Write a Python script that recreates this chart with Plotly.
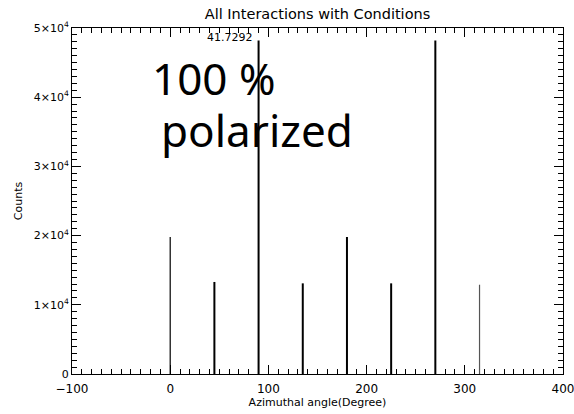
import plotly.graph_objects as go

# Azimuthal angle histogram peaks (degrees) and counts
angles = [0, 45, 90, 135, 180, 225, 270, 315]
counts = [19800, 13300, 48200, 13100, 19800, 13100, 48200, 12900]
line_widths = [1.2, 2, 2, 2, 2, 2, 2, 1.2]
line_colors = ["#000000"] * 7 + ["#555555"]

fig = go.Figure()
for a, c, w, col in zip(angles, counts, line_widths, line_colors):
    fig.add_trace(go.Scatter(x=[a, a], y=[0, c], mode="lines",
                             line=dict(color=col, width=w),
                             showlegend=False, hoverinfo="skip"))

font_main = "DejaVu Sans, Verdana, sans-serif"

fig.update_layout(
    width=574, height=414,
    margin=dict(l=72, r=11, t=28, b=40),
    paper_bgcolor="white", plot_bgcolor="white",
    font=dict(family=font_main, size=12, color="black"),
    title=dict(text="All Interactions with Conditions", x=0.5, xref="paper", xanchor="center",
               y=0.966, yanchor="middle", font=dict(size=14.5)),
    xaxis=dict(range=[-100, 400], showgrid=False, zeroline=False, automargin=False,
               showline=True, linecolor="black", linewidth=1, mirror="ticks",
               ticks="inside", ticklen=9, tickcolor="black",
               tickmode="linear", tick0=0, dtick=100, ticklabeloverflow="allow",
               ticklabelstandoff=4,
               minor=dict(ticks="inside", ticklen=5, dtick=10, tickcolor="black", showgrid=False),
               title=dict(text="Azimuthal angle(Degree)", standoff=0, font=dict(size=11)),
               tickfont=dict(size=12)),
    yaxis=dict(range=[0, 50000], showgrid=False, zeroline=False, automargin=False,
               showline=True, linecolor="black", linewidth=1, mirror="ticks",
               ticks="inside", ticklen=9, tickcolor="black",
               tickmode="linear", tick0=0, dtick=10000,
               exponentformat="power", showexponent="all", ticklabeloverflow="allow",
               minor=dict(ticks="inside", ticklen=5, dtick=1000, tickcolor="black", showgrid=False),
               title=dict(text="Counts", standoff=8, font=dict(size=11)),
               tickfont=dict(size=11)),
)

fig.add_annotation(x=61, y=48650, xref="x", yref="y", text="41.7292",
                   showarrow=False, font=dict(size=11, family=font_main))
fig.add_annotation(x=-20.4, y=42750, xref="x", yref="y", xanchor="left", yanchor="middle",
                   text="100 %", showarrow=False,
                   font=dict(size=44, family="Noto Sans, sans-serif"))
fig.add_annotation(x=-11.2, y=35250, xref="x", yref="y", xanchor="left", yanchor="middle",
                   text="polarized", showarrow=False,
                   font=dict(size=44, family="Noto Sans, sans-serif"))

fig.write_html("out.html")
